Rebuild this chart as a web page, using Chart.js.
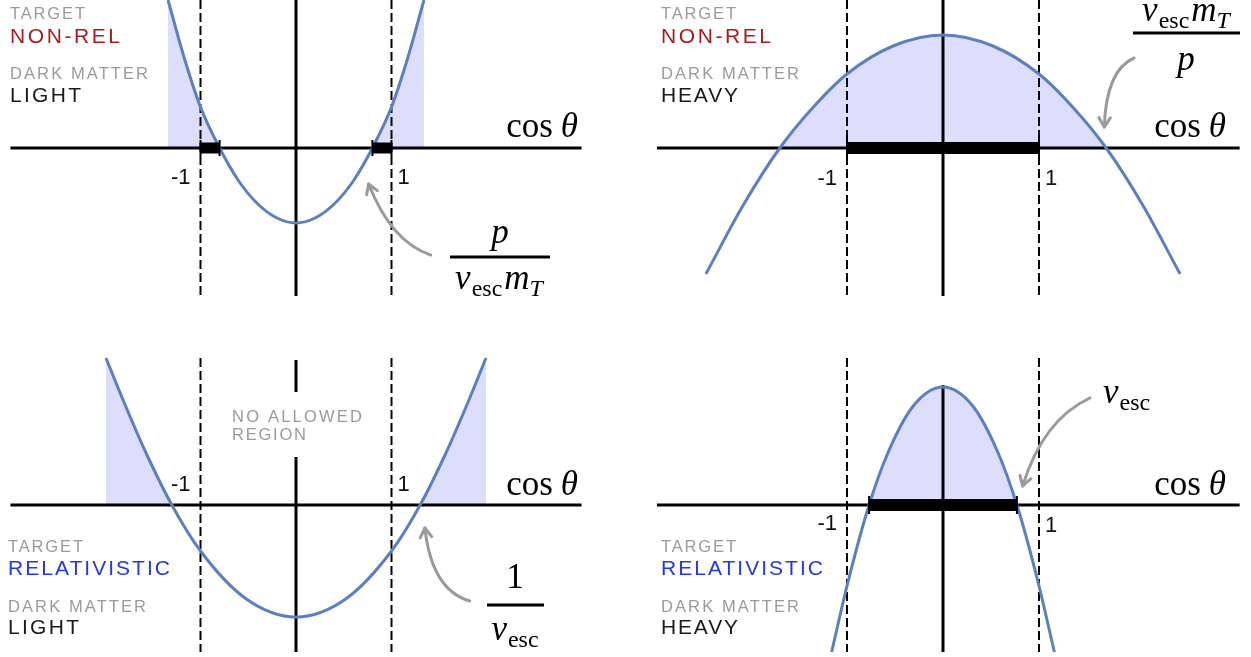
<!DOCTYPE html>
<html>
<head>
<meta charset="utf-8">
<script src="https://cdn.jsdelivr.net/npm/chart.js@4.4.0/dist/chart.umd.min.js"></script>
<style>
html, body { margin: 0; padding: 0; background: #fff; }
#wrap { width: 1251px; height: 657px; position: relative; }
</style>
</head>
<body>
<div id="wrap"><canvas id="c" width="1251" height="657"></canvas></div>
<script>
// parabolas in cos(theta), one per panel
const curveX1 = [-1.34, -1.17, -1.0, -0.8, -0.6, -0.4, -0.2, 0, 0.2, 0.4, 0.6, 0.8, 1.0, 1.17, 1.34];
const curveY1 = [1.48, 0.90, 0.41, 0, -0.33, -0.56, -0.70, -0.75, -0.70, -0.56, -0.33, 0, 0.41, 0.90, 1.48];
const curveX2 = [-2.47, -2.08, -1.70, -1.35, -1.0, -0.52, 0, 0.52, 1.0, 1.35, 1.70, 2.08, 2.47];
const curveY2 = [-1.26, -0.57, 0, 0.41, 0.74, 1.02, 1.13, 1.02, 0.74, 0.41, 0, -0.57, -1.26];
const curveX3 = [-1.99, -1.78, -1.57, -1.30, -1.0, -0.52, 0, 0.52, 1.0, 1.30, 1.57, 1.78, 1.99];
const curveY3 = [1.47, 0.98, 0.52, 0, -0.46, -0.94, -1.12, -0.94, -0.46, 0, 0.52, 0.98, 1.47];
const curveX4 = [-1.16, -0.99, -0.77, -0.57, -0.31, 0, 0.31, 0.57, 0.77, 0.99, 1.16];
const curveY4 = [-1.47, -0.77, 0, 0.53, 0.99, 1.18, 0.99, 0.53, 0, -0.77, -1.47];

// allowed cos(theta) ranges (thick bars)
const bars1 = [[-1, -0.8], [0.8, 1]];
const bars2 = [[-1, 1]];
const bars3 = [];
const bars4 = [[-0.77, 0.77]];

const tickValues = [-1, 1];
const tickLabels = ['-1', '1'];

const BLUE = '#5b80bd';
const SHADE = 'rgb(221,222,252)';
const GREY = '#9a9a9a';
const SANS = '"Liberation Sans", Arial, sans-serif';
const SERIF = '"Liberation Serif", "DejaVu Serif", serif';

function pts(xs, ys) { return xs.map((x, i) => ({ x: x, y: ys[i] })); }

function line(data, xAxisID, yAxisID, opts) {
  return Object.assign({
    data: data, xAxisID: xAxisID, yAxisID: yAxisID,
    showLine: true, pointRadius: 0, fill: false, tension: 0,
    borderColor: '#000', borderWidth: 3, borderCapStyle: 'butt'
  }, opts || {});
}

const panels = [
  { x: 'xL', y: 'yT', cx: curveX1, cy: curveY1, bars: bars1, barW: 11, capR: 8,
    h: [-2.99, 2.99], v: [[1.48, -1.48]], dash: [1.48, -1.48] },
  { x: 'xR', y: 'yT', cx: curveX2, cy: curveY2, bars: bars2, barW: 12, capR: 9.5,
    h: [-2.98, 3.09], v: [[1.48, -1.48]], dash: [1.48, -1.48] },
  { x: 'xL', y: 'yB', cx: curveX3, cy: curveY3, bars: bars3, barW: 12, capR: 9,
    h: [-2.99, 2.99], v: [[1.45, 1.13], [0.48, -1.47]], dash: [1.47, -1.47] },
  { x: 'xR', y: 'yB', cx: curveX4, cy: curveY4, bars: bars4, barW: 12, capR: 9,
    h: [-2.98, 3.09], v: [[1.20, -1.47]], dash: [1.47, -1.47] }
];

// first dataset ends up on top
const caps = [], barSets = [], curves = [], axes = [], dashes = [];
panels.forEach(p => {
  const capPts = [];
  p.bars.forEach(b => {
    barSets.push(line([{ x: b[0], y: 0 }, { x: b[1], y: 0 }], p.x, p.y, { borderWidth: p.barW }));
    capPts.push({ x: b[0], y: 0 }, { x: b[1], y: 0 });
  });
  if (capPts.length) {
    caps.push(line(capPts, p.x, p.y, {
      showLine: false, pointStyle: 'line', pointRadius: p.capR, pointRotation: 90,
      pointBorderWidth: 2, pointBorderColor: '#000'
    }));
  }
  curves.push(line(pts(p.cx, p.cy), p.x, p.y, {
    borderColor: BLUE, borderWidth: 3, cubicInterpolationMode: 'monotone',
    fill: { target: 'origin', above: SHADE, below: 'rgba(0,0,0,0)' }
  }));
  axes.push(line([{ x: p.h[0], y: 0 }, { x: p.h[1], y: 0 }], p.x, p.y));
  p.v.forEach(s => axes.push(line([{ x: 0, y: s[0] }, { x: 0, y: s[1] }], p.x, p.y)));
  tickValues.forEach(t => dashes.push(line([{ x: t, y: p.dash[0] }, { x: t, y: p.dash[1] }], p.x, p.y,
    { borderWidth: 2, borderDash: [9, 4] })));
});

// curved grey arrows, [start, control, tip] in panel units
const arrows = [
  { x: 'xL', y: 'yT', p: [[1.41, -1.07], [1.0, -0.94], [0.76, -0.36]] },
  { x: 'xR', y: 'yT', p: [[1.99, 0.90], [1.70, 0.78], [1.68, 0.21]] },
  { x: 'xL', y: 'yB', p: [[1.82, -0.96], [1.42, -0.85], [1.35, -0.23]] },
  { x: 'xR', y: 'yB', p: [[1.53, 1.07], [1.04, 0.85], [0.83, 0.19]] }
];

function mfont(p) { return (p.it ? 'italic ' : '') + (p.sub ? 24 : 35) + 'px ' + SERIF; }
function drawMath(ctx, parts, x, base, align) {
  let w = 0;
  parts.forEach(p => { ctx.font = mfont(p); p.w = ctx.measureText(p.t).width + (p.gap || 0); w += p.w; });
  let cx = align === 'center' ? x - w / 2 : align === 'right' ? x - w : x;
  ctx.textAlign = 'left';
  ctx.fillStyle = '#000';
  parts.forEach(p => { ctx.font = mfont(p); ctx.fillText(p.t, cx, base + (p.sub ? 7 : 0)); cx += p.w; });
}
function fracBar(ctx, x0, x1, y) {
  ctx.fillStyle = '#000';
  ctx.fillRect(x0, y - 1.5, x1 - x0, 3);
}
function spaced(ctx, text, x, base, size, color, width) {
  ctx.font = size + 'px ' + SANS;
  ctx.letterSpacing = '0px';
  const w = ctx.measureText(text).width;
  const ls = text.length > 1 ? (width - w) / (text.length - 1) : 0;
  ctx.letterSpacing = ls + 'px';
  ctx.textAlign = 'left';
  ctx.fillStyle = color;
  ctx.fillText(text, x, base);
  ctx.letterSpacing = '0px';
}

const vesc = () => [{ t: 'v', it: true, gap: 1 }, { t: 'esc', sub: true }];
const vescmT = () => [{ t: 'v', it: true, gap: 1 }, { t: 'esc', sub: true, gap: 2 }, { t: 'm', it: true }, { t: 'T', it: true, sub: true }];
const cosT = () => [{ t: 'cos', gap: 8 }, { t: 'θ', it: true }];

const labels = {
  id: 'labels',
  afterDraw(chart) {
    const ctx = chart.ctx;
    const s = chart.scales;
    ctx.save();

    // arrows
    ctx.strokeStyle = GREY; ctx.lineWidth = 3; ctx.lineCap = 'round'; ctx.lineJoin = 'round';
    arrows.forEach(a => {
      const q = a.p.map(v => [s[a.x].getPixelForValue(v[0]), s[a.y].getPixelForValue(v[1])]);
      ctx.beginPath();
      ctx.moveTo(q[0][0], q[0][1]);
      ctx.quadraticCurveTo(q[1][0], q[1][1], q[2][0], q[2][1]);
      ctx.stroke();
      const ang = Math.atan2(q[2][1] - q[1][1], q[2][0] - q[1][0]);
      ctx.beginPath();
      ctx.moveTo(q[2][0] - 11 * Math.cos(ang - 0.55), q[2][1] - 11 * Math.sin(ang - 0.55));
      ctx.lineTo(q[2][0], q[2][1]);
      ctx.lineTo(q[2][0] - 11 * Math.cos(ang + 0.55), q[2][1] - 11 * Math.sin(ang + 0.55));
      ctx.stroke();
    });

    // -1 / 1 next to the dashed lines
    const tickBase = [[184, 184], [185, 185], [491, 491], [530, 532]];
    panels.forEach((p, i) => {
      ctx.font = '22px ' + SANS; ctx.fillStyle = '#111';
      tickValues.forEach((t, j) => {
        const px = s[p.x].getPixelForValue(t);
        ctx.textAlign = t < 0 ? 'right' : 'left';
        ctx.fillText(tickLabels[j], t < 0 ? px - 10 : px + 6, tickBase[i][j]);
      });
    });

    // cos theta axis titles
    drawMath(ctx, cosT(), 578, 137, 'right');
    drawMath(ctx, cosT(), 1226, 137, 'right');
    drawMath(ctx, cosT(), 578, 495, 'right');
    drawMath(ctx, cosT(), 1226, 495, 'right');

    // fractions
    drawMath(ctx, [{ t: 'p', it: true }], 500, 243, 'center');
    fracBar(ctx, 450, 550, 257);
    drawMath(ctx, vescmT(), 499, 289, 'center');

    drawMath(ctx, vescmT(), 1186, 21, 'center');
    fracBar(ctx, 1133, 1240, 33);
    drawMath(ctx, [{ t: 'p', it: true }], 1186, 70, 'center');

    drawMath(ctx, [{ t: '1' }], 515, 588, 'center');
    fracBar(ctx, 487, 544, 605);
    drawMath(ctx, vesc(), 515, 640, 'center');

    drawMath(ctx, vesc(), 1103, 403, 'left');

    // case captions
    const blocks = [
      { x: 10, b: [19, 43, 79, 102], t: ['TARGET', 'NON-REL', 'DARK MATTER', 'LIGHT'], w: [75, 110, 138, 71], c: '#a81c1f' },
      { x: 661, b: [19, 43, 79, 102], t: ['TARGET', 'NON-REL', 'DARK MATTER', 'HEAVY'], w: [75, 110, 138, 77], c: '#a81c1f' },
      { x: 8, b: [552, 575, 612, 634], t: ['TARGET', 'RELATIVISTIC', 'DARK MATTER', 'LIGHT'], w: [75, 162, 138, 71], c: '#2238e8' },
      { x: 661, b: [552, 575, 612, 634], t: ['TARGET', 'RELATIVISTIC', 'DARK MATTER', 'HEAVY'], w: [75, 162, 138, 77], c: '#2238e8' }
    ];
    blocks.forEach(bk => {
      spaced(ctx, bk.t[0], bk.x, bk.b[0], 16.5, GREY, bk.w[0]);
      spaced(ctx, bk.t[1], bk.x, bk.b[1], 21, bk.c, bk.w[1]);
      spaced(ctx, bk.t[2], bk.x, bk.b[2], 16.5, GREY, bk.w[2]);
      spaced(ctx, bk.t[3], bk.x, bk.b[3], 21, '#1a1a1a', bk.w[3]);
    });
    spaced(ctx, 'NO ALLOWED', 232, 422, 16.5, GREY, 130);
    spaced(ctx, 'REGION', 232, 440, 16.5, GREY, 74);

    ctx.restore();
  }
};

new Chart(document.getElementById('c'), {
  type: 'line',
  data: { datasets: [].concat(caps, barSets, curves, axes, dashes) },
  options: {
    responsive: false,
    animation: false,
    events: [],
    layout: { padding: 0, autoPadding: false },
    plugins: {
      legend: { display: false },
      tooltip: { enabled: false },
      filler: { drawTime: 'beforeDatasetsDraw' }
    },
    scales: {
      xL: { type: 'linear', axis: 'x', display: false, min: -296 / 95.5, max: (1251 - 296) / 95.5 },
      xR: { type: 'linear', axis: 'x', display: false, min: -943 / 96, max: (1251 - 943) / 96 },
      yT: { type: 'linear', axis: 'y', display: false, min: -5.09, max: 1.48 },
      yB: { type: 'linear', axis: 'y', display: false, min: -1.52, max: 5.05 }
    }
  },
  plugins: [labels]
});
</script>
</body>
</html>
